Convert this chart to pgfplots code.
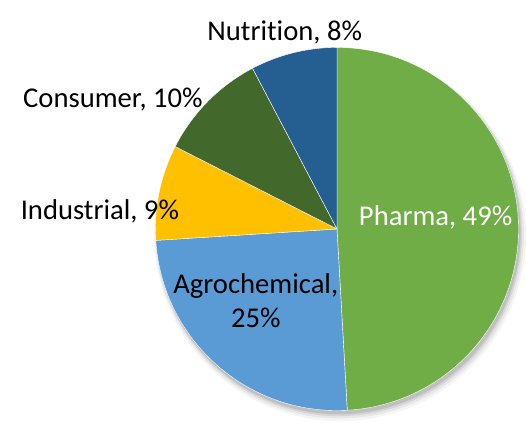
\documentclass[border=0pt]{standalone}
\usepackage{fontspec}
\setmainfont{Carlito}[Ligatures={NoCommon}]
\usepackage{pgfplots}
\pgfplotsset{compat=1.18}
\definecolor{pharma}{RGB}{112,173,71}
\definecolor{agro}{RGB}{91,155,213}
\definecolor{indus}{RGB}{255,192,0}
\definecolor{consum}{RGB}{67,104,43}
\definecolor{nutri}{RGB}{37,94,145}

% shares in percent, clockwise from 12 o'clock
\def\vPharma{49.1}
\def\vAgro{24.9}
\def\vIndus{8.5}
\def\vConsum{9.8}
\def\vNutri{7.7}

\pgfmathsetmacro\aA{90}
\pgfmathsetmacro\aB{\aA-3.6*\vPharma}
\pgfmathsetmacro\aC{\aB-3.6*\vAgro}
\pgfmathsetmacro\aD{\aC-3.6*\vIndus}
\pgfmathsetmacro\aE{\aD-3.6*\vConsum}
\pgfmathsetmacro\aF{\aE-3.6*\vNutri}
\def\R{136.3pt}

\begin{document}
\begin{tikzpicture}
\begin{axis}[
  x=0.75pt, y=0.75pt, scale only axis,
  xmin=0, xmax=526, ymin=0, ymax=427,
  hide axis, clip=false,
]
\addplot[draw=none] coordinates {(0,0)(526,427)};

% soft shadow (bottom right)
\fill[black,opacity=0.04] (axis cs:340.5,191.5) circle[radius=139.5pt];
\fill[black,opacity=0.06] (axis cs:340.0,192.5) circle[radius=138.3pt];
\fill[black,opacity=0.08] (axis cs:339.5,193.5) circle[radius=137.3pt];
\fill[black,opacity=0.10] (axis cs:339.0,194.5) circle[radius=136.6pt];

\fill[pharma,draw=white,line width=0.3pt] (axis cs:337.3,197.8) -- ++(\aA:\R) arc[start angle=\aA, end angle=\aB, radius=\R] -- cycle;
\fill[agro,draw=white,line width=0.3pt] (axis cs:337.3,197.8) -- ++(\aB:\R) arc[start angle=\aB, end angle=\aC, radius=\R] -- cycle;
\fill[indus,draw=white,line width=0.3pt] (axis cs:337.3,197.8) -- ++(\aC:\R) arc[start angle=\aC, end angle=\aD, radius=\R] -- cycle;
\fill[consum,draw=white,line width=0.3pt] (axis cs:337.3,197.8) -- ++(\aD:\R) arc[start angle=\aD, end angle=\aE, radius=\R] -- cycle;
\fill[nutri,draw=white,line width=0.3pt] (axis cs:337.3,197.8) -- ++(\aE:\R) arc[start angle=\aE, end angle=\aF, radius=\R] -- cycle;

\begin{scope}[font=\fontsize{21.5}{25}\selectfont, inner sep=0pt]
\node at (axis cs:285,394) {Nutrition, 8\%};
\node at (axis cs:113,327) {Consumer, 10\%};
\node at (axis cs:100,215) {Industrial, 9\%};
\node[white] at (axis cs:436,209) {Pharma, 49\%};
\node[align=center] at (axis cs:256,126) {Agrochemical,\\25\%};
\end{scope}
\end{axis}
\end{tikzpicture}
\end{document}
